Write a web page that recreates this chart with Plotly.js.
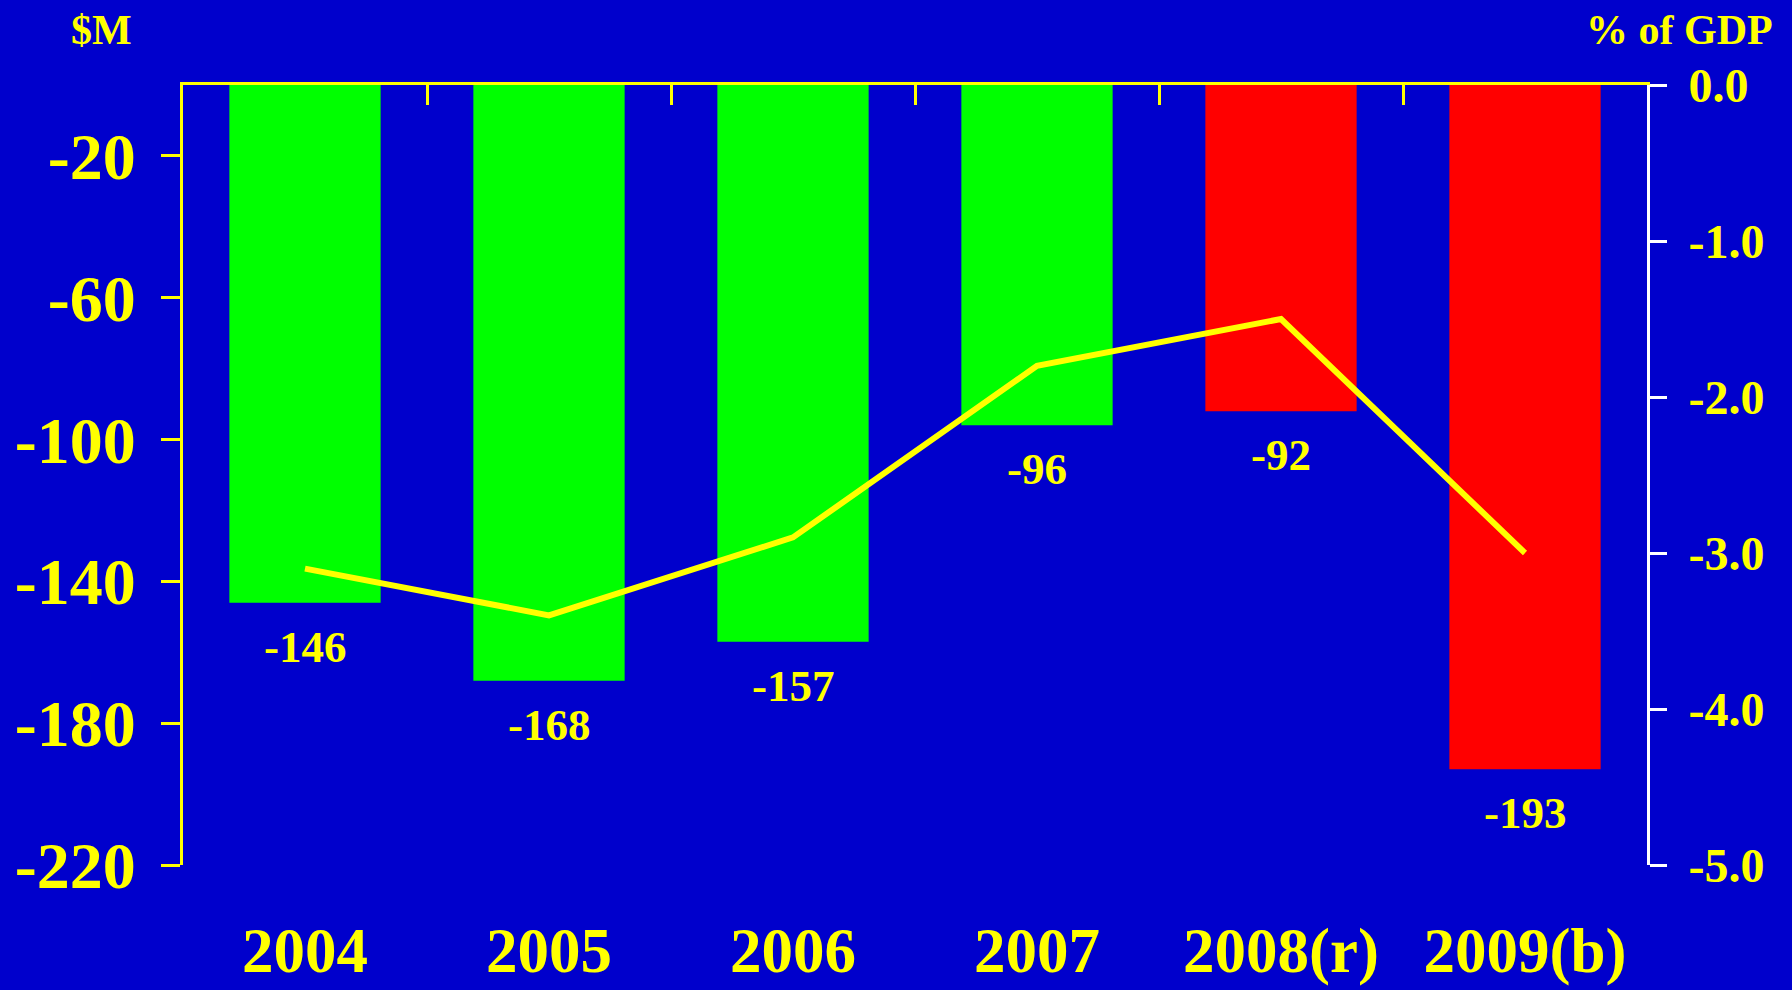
<!DOCTYPE html>
<html>
<head>
<meta charset="utf-8">
<script src="https://cdn.plot.ly/plotly-3.0.1.min.js"></script>
<style>html,body{margin:0;padding:0;background:#0000CC;}#chart{width:1792px;height:990px;}</style>
</head>
<body>
<div id="chart"></div>
<script>
const years = ["2004", "2005", "2006", "2007", "2008(r)", "2009(b)"];
const balanceM = [-146, -168, -157, -96, -92, -193];
const pctGDP = [-3.1, -3.4, -2.9, -1.8, -1.5, -3.0];
const barColors = ["#00FF00", "#00FF00", "#00FF00", "#00FF00", "#FF0000", "#FF0000"];
const leftTicks = [-20, -60, -100, -140, -180, -220];
const rightTicks = [0, -1, -2, -3, -4, -5];

const FONT = "Liberation Serif, Times New Roman, serif";
const YEL = "#FFFF00";

const bars = {
  type: "bar", x: years, y: balanceM, xaxis: "x", yaxis: "y",
  marker: {color: barColors, line: {width: 0}},
  hoverinfo: "none", showlegend: false
};
const line = {
  type: "scatter", mode: "lines", x: years, y: pctGDP, xaxis: "x2", yaxis: "y2",
  line: {color: YEL, width: 6}, hoverinfo: "none", showlegend: false
};

const annotations = years.map((c, i) => ({
  x: i, y: balanceM[i], xref: "x", yref: "y", text: "<b>" + String(balanceM[i]) + "</b>",
  showarrow: false, yanchor: "top", yshift: -17,
  font: {family: FONT, size: 45, color: YEL}
}));
annotations.push({
  xref: "paper", yref: "paper", x: -0.056, y: 1.07, text: "<b>$M</b>", showarrow: false,
  xanchor: "center", yanchor: "middle", font: {family: FONT, size: 42, color: YEL}
});
annotations.push({
  xref: "paper", yref: "paper", x: 1.0225, y: 1.07, text: "<b>% of GDP</b>", showarrow: false,
  xanchor: "center", yanchor: "middle", font: {family: FONT, size: 42, color: YEL}
});

const layout = {
  width: 1792, height: 990,
  paper_bgcolor: "#0000CC", plot_bgcolor: "#0000CC",
  margin: {l: 183, r: 145, t: 85, b: 125},
  bargap: 0.38,
  font: {family: FONT, color: YEL},
  xaxis: {
    type: "category", range: [-0.5, 5.5], side: "bottom", showline: false,
    showgrid: false, zeroline: false, ticks: "", ticklabelstandoff: 43,
    tickfont: {family: FONT, size: 63, color: YEL, weight: "bold"}
  },
  xaxis2: {
    type: "category", range: [-0.5, 5.5], overlaying: "x", side: "top", anchor: "y",
    showline: true, linecolor: YEL, linewidth: 3, showgrid: false, zeroline: false,
    ticks: "inside", tickson: "boundaries", ticklen: 20, tickwidth: 3, tickcolor: YEL,
    showticklabels: false
  },
  yaxis: {
    range: [-220, 0], tickmode: "array", tickvals: leftTicks, ticktext: leftTicks.map(String),
    showline: true, linecolor: YEL, linewidth: 3, showgrid: false, zeroline: false,
    ticks: "outside", ticklen: 19, tickwidth: 3, tickcolor: YEL, ticklabelstandoff: 12,
    tickfont: {family: FONT, size: 66, color: YEL, weight: "bold"}
  },
  yaxis2: {
    range: [-5, 0], tickmode: "array", tickvals: rightTicks, ticktext: rightTicks.map(v => v.toFixed(1)),
    overlaying: "y", side: "right", anchor: "x",
    showline: true, linecolor: "#FFFFFF", linewidth: 3, showgrid: false, zeroline: false,
    ticks: "outside", ticklen: 17, tickwidth: 3, tickcolor: "#FFFFFF", ticklabelstandoff: 12,
    tickfont: {family: FONT, size: 48, color: YEL, weight: "bold"}
  },
  annotations: annotations
};

Plotly.newPlot("chart", [bars, line], layout, {displayModeBar: false, staticPlot: true});
</script>
</body>
</html>
